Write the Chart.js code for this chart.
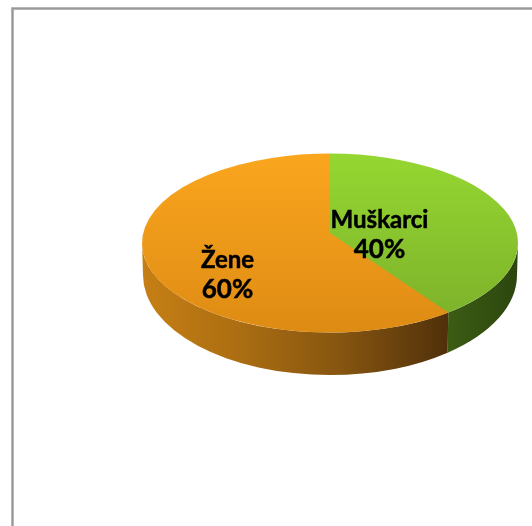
<!DOCTYPE html>
<html>
<head>
<meta charset="utf-8">
<style>
html,body{margin:0;padding:0;background:#fff;overflow:hidden}
#box{position:absolute;left:0;top:0;width:532px;height:526px}
</style>
<script src="https://cdn.jsdelivr.net/npm/chart.js@4/dist/chart.umd.min.js"></script>
</head>
<body>
<div id="box"><canvas id="c" width="532" height="526"></canvas></div>
<script>
const categories = ['Muškarci', 'Žene'];
const values = [40, 60];
const percentLabels = ['40%', '60%'];
const topColorsLight = ['#95D731', '#FBA61E'];
const topColorsDark = ['#7BAF2A', '#DE8B14'];
const sideStops = [
  [[0, '#3C5C14'], [1, '#2C460E']],
  [[0, '#C67F15'], [0.3, '#AD6F12'], [0.65, '#865510'], [1, '#50300A']]
];

// view geometry
const squash = 89.5 / 188;          // tilt of the disc
const apexLift = 10;                // perspective: pie centre sits above ellipse centre
const rimSkew = 0.052;              // perspective: the front boundary lands slightly further round
const baseDrop = 32, baseRy = 100, baseRx = 187;
const labelCentres = [[379.5, 220], [227.5, 260]];
const lineGap = 30;
const NAME_FONT = 'bold 24px Lato, "Open Sans", sans-serif';
const PCT_FONT = 'bold 26px Lato, "Open Sans", sans-serif';

function faceGradient(c, i) {
  const a = c.chart.chartArea;
  if (!a) return topColorsLight[i];
  const g = c.chart.ctx.createLinearGradient(0, a.top, 0, a.bottom);
  g.addColorStop(0, topColorsLight[i]);
  g.addColorStop(1, topColorsDark[i]);
  return g;
}

const pie3d = {
  id: 'pie3d',
  beforeDraw(chart) {
    const ctx = chart.ctx;
    ctx.save();
    ctx.strokeStyle = '#D4D4D4'; ctx.lineWidth = 3;
    ctx.beginPath(); ctx.moveTo(12.5, 526); ctx.lineTo(12.5, 8.5); ctx.lineTo(532, 8.5); ctx.stroke();
    ctx.strokeStyle = '#979797'; ctx.lineWidth = 2;
    ctx.beginPath(); ctx.moveTo(12.5, 526); ctx.lineTo(12.5, 8.5); ctx.lineTo(532, 8.5); ctx.stroke();
    ctx.restore();
  },
  beforeDatasetsDraw(chart) {
    const ctx = chart.ctx;
    const arcs = chart.getDatasetMeta(0).data;
    const { x: cx, y: cy, outerRadius: R } = arcs[0];
    const ry = R * squash;
    // side wall, only the front half of the rim is visible
    arcs.forEach((arc, i) => {
      const start = i === 0 ? arc.startAngle : arc.startAngle - rimSkew;
      const end = i === 0 ? arc.endAngle - rimSkew : arc.endAngle;
      const a1 = Math.max(start, 0);
      const a2 = Math.min(end, Math.PI);
      if (a2 <= a1) return;
      const g = ctx.createLinearGradient(cx + R * Math.cos(a2), 0, cx + R * Math.cos(a1), 0);
      sideStops[i].forEach(s => g.addColorStop(s[0], s[1]));
      ctx.beginPath();
      ctx.ellipse(cx, cy, R, ry, 0, a1, a2);
      ctx.ellipse(cx, cy + baseDrop, baseRx, baseRy, 0, a2, a1, true);
      ctx.closePath();
      ctx.fillStyle = g;
      ctx.fill();
    });
    ctx.save();
    ctx.translate(0, cy);
    ctx.scale(1, squash);
    ctx.translate(0, -cy);
  },
  afterDatasetsDraw(chart) {
    const ctx = chart.ctx;
    const arcs = chart.getDatasetMeta(0).data;
    const arc = arcs[0];
    const { x: cx, y: cy, outerRadius: R } = arc;
    // extend the large slice over the shared boundary for the perspective look
    const g = ctx.createLinearGradient(0, cy - R, 0, cy + R);
    g.addColorStop(0, topColorsLight[1]);
    g.addColorStop(1, topColorsDark[1]);
    ctx.beginPath();
    ctx.moveTo(cx - 2, cy - apexLift / squash);
    ctx.lineTo(cx, cy - apexLift / squash);
    ctx.arc(cx, cy, R, arc.endAngle - rimSkew, arc.endAngle + 0.02);
    ctx.lineTo(cx - 3, cy + 6);
    ctx.closePath();
    ctx.fillStyle = g;
    ctx.fill();
    ctx.restore();

    // labels
    ctx.save();
    ctx.fillStyle = '#000';
    ctx.strokeStyle = '#000';
    ctx.lineWidth = 0.5;
    ctx.textAlign = 'center';
    ctx.textBaseline = 'middle';
    categories.forEach((name, i) => {
      ctx.font = NAME_FONT;
      ctx.fillText(name, labelCentres[i][0], labelCentres[i][1]);
      ctx.strokeText(name, labelCentres[i][0], labelCentres[i][1]);
      ctx.font = PCT_FONT;
      ctx.fillText(percentLabels[i], labelCentres[i][0], labelCentres[i][1] + lineGap);
      ctx.strokeText(percentLabels[i], labelCentres[i][0], labelCentres[i][1] + lineGap);
    });
    ctx.restore();
  }
};

new Chart(document.getElementById('c'), {
  type: 'pie',
  data: {
    labels: categories,
    datasets: [{
      data: values,
      borderWidth: 0,
      backgroundColor: c => faceGradient(c, c.dataIndex)
    }]
  },
  options: {
    responsive: false,
    animation: false,
    layout: { padding: { left: 142, right: 14, top: 55, bottom: 95 } },
    plugins: { legend: { display: false }, tooltip: { enabled: false } }
  },
  plugins: [pie3d]
});
</script>
</body>
</html>
